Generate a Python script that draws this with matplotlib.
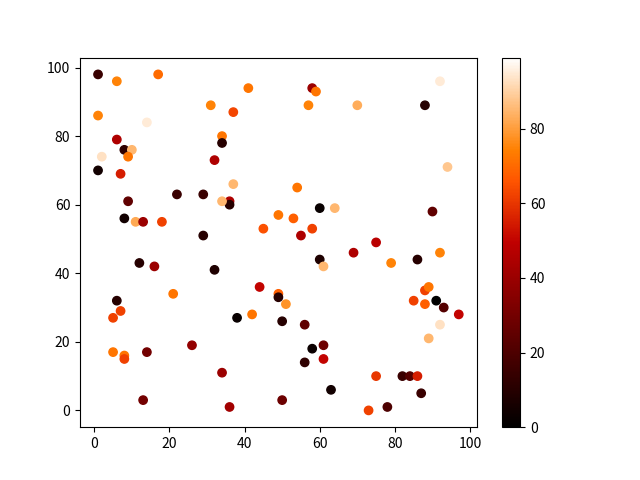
import matplotlib
matplotlib.use('Agg')
import matplotlib.pyplot as plt

plt.rcParams['font.family'] = ['Noto Sans CJK SC', 'DejaVu Sans']

x = [1, 6, 17, 1, 14, 2, 6, 8, 10, 9, 1, 7, 9, 8, 11, 13, 18, 22, 29, 29,
     31, 41, 37, 34, 34, 32, 36, 36, 34, 37, 45, 49, 54, 53, 55, 58, 59, 57, 70, 88,
     92, 94, 60, 64, 90, 58, 60, 61, 69, 75, 79, 86, 92,
     12, 16, 21, 6, 7, 5, 5, 8, 8, 14, 26, 32, 38, 42, 44, 49, 49, 51, 50, 13, 34, 36, 50,
     56, 61, 58, 61, 56, 63, 75, 73, 78, 82, 84, 86, 87, 85, 88, 89, 88, 91, 93, 97, 92, 89, 85]
y = [98, 96, 98, 86, 84, 74, 79, 76, 76, 74, 70, 69, 61, 56, 55, 55, 55, 63, 63, 51,
     89, 94, 87, 80, 78, 73, 61, 60, 61, 66, 53, 57, 65, 56, 51, 94, 93, 89, 89, 89,
     96, 71, 59, 59, 58, 53, 44, 42, 46, 49, 43, 44, 46,
     43, 42, 34, 32, 29, 27, 17, 16, 15, 17, 19, 41, 27, 28, 36, 34, 33, 31, 26, 3, 11, 1, 3,
     25, 19, 18, 15, 14, 6, 10, 0, 1, 10, 10, 10, 5, 32, 35, 36, 31, 32, 30, 28, 25, 21, 39]
c = [15, 75, 70, 75, 95, 93, 45, 12, 85, 72, 5, 55, 25, 5, 82, 40, 62, 15, 15, 10,
     75, 72, 63, 72, 10, 45, 45, 10, 85, 85, 65, 72, 72, 68, 45, 40, 72, 75, 83, 10,
     95, 88, 2, 85, 25, 62, 8, 85, 45, 48, 75, 10, 75,
     10, 40, 72, 10, 62, 62, 72, 72, 62, 30, 38, 8, 2, 72, 50, 68, 10, 78, 10, 30, 40, 42, 28,
     25, 28, 3, 50, 12, 5, 60, 62, 20, 15, 22, 55, 15, 62, 62, 72, 68, 0, 22, 50, 93, 85, 99]

fig = plt.figure(figsize=(6.4, 4.8), dpi=100)
plt.scatter(x, y, c=c, cmap='gist_heat')
plt.colorbar()
plt.savefig('out.png', dpi=100)
plt.close()
